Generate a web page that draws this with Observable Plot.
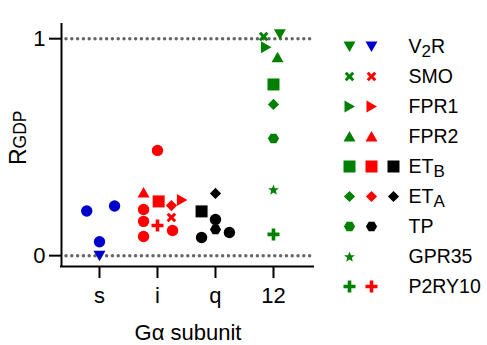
<!DOCTYPE html>
<html><head><meta charset="utf-8">
<script src="https://cdn.jsdelivr.net/npm/d3@7"></script>
<script src="https://cdn.jsdelivr.net/npm/@observablehq/plot@0.6"></script>
<style>
body{margin:0;background:#fff;}
#wrap{position:relative;width:487px;height:345px;font-family:Arial,"Liberation Sans",sans-serif;}
#wrap svg{position:absolute;top:0;overflow:visible;}
</style></head><body><div id="wrap"></div>
<script>
// ---- data ----
const subunits = ["s", "i", "q", "12"];
const yTicks = [0, 1];

const gsReceptor = ["other", "other", "other", "V2R"];
const gsDodge    = [-0.22, 0.26, 0, 0];
const gsValue    = [0.206, 0.229, 0.064, 0.0];

const giReceptor = ["other", "FPR2", "ETB", "ETA", "FPR1", "other", "other", "other", "P2RY10", "SMO", "other"];
const giDodge    = [0, -0.24, 0.02, 0.24, 0.42, -0.24, -0.24, -0.24, 0, 0.24, 0.26];
const giValue    = [0.485, 0.291, 0.250, 0.231, 0.256, 0.213, 0.158, 0.088, 0.139, 0.176, 0.116];

const gqReceptor = ["ETA", "ETB", "other", "TP", "other", "other"];
const gqDodge    = [0, -0.24, 0, 0, 0.24, -0.24];
const gqValue    = [0.287, 0.204, 0.167, 0.121, 0.107, 0.084];

const g12Receptor = ["SMO", "V2R", "FPR1", "FPR2", "ETB", "ETA", "TP", "GPR35", "P2RY10"];
const g12Dodge    = [-0.17, 0.11, -0.13, 0.07, 0, 0, 0, 0, 0];
const g12Value    = [1.010, 1.020, 0.961, 0.915, 0.789, 0.697, 0.540, 0.305, 0.098];

const legendReceptors = ["V2R", "SMO", "FPR1", "FPR2", "ETB", "ETA", "TP", "GPR35", "P2RY10"];
const legendSubunits = [["12","s"], ["12","i"], ["12","i"], ["12","i"], ["12","i","q"], ["12","i","q"], ["12","q"], ["12"], ["12","i"]];

// ---- styles ----
const subunitColor = {"s": "#0000cc", "i": "#ff0000", "q": "#000000", "12": "#008000"};
const FONT = 'Arial, "Liberation Sans", sans-serif';

function poly(ctx, pts) {
  ctx.moveTo(pts[0][0], pts[0][1]);
  for (let i = 1; i < pts.length; i++) ctx.lineTo(pts[i][0], pts[i][1]);
  ctx.closePath();
}
function rot(pts, a) {
  const c = Math.cos(a), s = Math.sin(a);
  return pts.map(([x, y]) => [x * c - y * s, x * s + y * c]);
}
const plusPts = (L, t) => [[-t,-L],[t,-L],[t,-t],[L,-t],[L,t],[t,t],[t,L],[-t,L],[-t,t],[-L,t],[-L,-t],[-t,-t]];
const sym = f => ({draw(ctx) { f(ctx); }});
const shapes = {
  other: sym(ctx => { ctx.moveTo(5.7, 0); ctx.arc(0, 0, 5.7, 0, 2 * Math.PI); }),
  V2R: sym(ctx => poly(ctx, [[-6, -5], [6, -5], [0, 5.5]])),
  SMO: sym(ctx => poly(ctx, rot(plusPts(5.3, 1.5), Math.PI / 4))),
  FPR1: sym(ctx => poly(ctx, [[-5, -6], [5.5, 0], [-5, 6]])),
  FPR2: sym(ctx => poly(ctx, [[0, -5.5], [6, 5], [-6, 5]])),
  ETB: sym(ctx => poly(ctx, [[-6, -6], [6, -6], [6, 6], [-6, 6]])),
  ETA: sym(ctx => poly(ctx, [[0, -5.6], [5.6, 0], [0, 5.6], [-5.6, 0]])),
  TP: sym(ctx => poly(ctx, d3.range(6).map(k => [5.6 * Math.cos(k * Math.PI / 3), 5.6 * Math.sin(k * Math.PI / 3)]))),
  GPR35: sym(ctx => poly(ctx, d3.range(10).map(k => {
    const R = k % 2 ? 2.4 : 5.7, a = -Math.PI / 2 + k * Math.PI / 5;
    return [R * Math.cos(a), R * Math.sin(a) + 0.6];
  }))),
  P2RY10: sym(ctx => poly(ctx, plusPts(6, 1.8)))
};

// ---- build tables ----
const groups = [
  {sub: 0, receptor: gsReceptor, dodge: gsDodge, value: gsValue},
  {sub: 1, receptor: giReceptor, dodge: giDodge, value: giValue},
  {sub: 2, receptor: gqReceptor, dodge: gqDodge, value: gqValue},
  {sub: 3, receptor: g12Receptor, dodge: g12Dodge, value: g12Value}
];
const points = groups.flatMap(g => g.receptor.map((r, i) => ({
  sub: subunits[g.sub], receptor: r, x: g.sub + g.dodge[i], y: g.value[i]
})));
const legendItems = legendReceptors.flatMap((r, i) => legendSubunits[i].map((s, col) => ({receptor: r, sub: s, col})));

const shapeMarks = (data, opts) => Object.keys(shapes).map(r =>
  Plot.dot(data.filter(d => d.receptor === r), {...opts, symbol: shapes[r], r: 6, fill: d => subunitColor[d.sub], stroke: "none"}));

const chart = Plot.plot({
  width: 487, height: 345,
  marginLeft: 61, marginRight: 173, marginTop: 23, marginBottom: 79,
  style: {fontFamily: FONT, fontSize: "21px", color: "#000", background: "transparent", overflow: "visible"},
  x: {domain: [-0.655, 3.707]},
  y: {domain: [-0.05, 1.07]},
  color: {type: "identity"},
  marks: [
    Plot.ruleY(yTicks, {stroke: "#666", strokeWidth: 3.5, strokeDasharray: "0,5.8", strokeLinecap: "round", insetLeft: 5, insetRight: 2}),
    Plot.ruleX([-0.655], {stroke: "#000", strokeWidth: 2}),
    Plot.ruleY([-0.05], {stroke: "#000", strokeWidth: 2, insetLeft: -1}),
    Plot.axisY({ticks: yTicks, tickFormat: d => String(d), tickSize: 12, tickPadding: 4, strokeWidth: 2, label: null, fontSize: 22}),
    Plot.axisX({ticks: [0, 1, 2, 3], tickFormat: i => subunits[i], tickSize: 12, tickPadding: 9, strokeWidth: 2, label: null, fontSize: 22}),
    Plot.text(["Gα subunit"], {frameAnchor: "bottom", dy: 66.5, lineAnchor: "middle", fontSize: 22}),
    Plot.text(["RGDP"], {frameAnchor: "left", dx: -43, dy: 20, rotate: -90, lineAnchor: "middle", fontSize: 23}),
    ...shapeMarks(points, {x: "x", y: "y"})
  ]
});

const legend = Plot.plot({
  width: 157, height: 345, margin: 0,
  style: {fontFamily: FONT, fontSize: "19.5px", color: "#000", background: "transparent", overflow: "visible"},
  x: {type: "point", domain: [0, 1, 2], range: [19, 63], padding: 0, axis: null},
  y: {type: "point", domain: legendReceptors, range: [43, 289], padding: 0, axis: null},
  color: {type: "identity"},
  marks: [
    ...shapeMarks(legendItems, {x: "col", y: "receptor"}),
    Plot.text(legendReceptors, {y: d => d, frameAnchor: "left", dx: 78, textAnchor: "start", lineAnchor: "middle", fontSize: 19.5})
  ]
});
legend.style.left = "330px";

// subscripts
const subParts = {"V2R": ["V", "2", "R"], "ETB": ["ET", "B", ""], "ETA": ["ET", "A", ""]};
d3.select(legend).selectAll("text").each(function() {
  const p = subParts[this.textContent];
  if (!p) return;
  const t = d3.select(this).text("");
  t.append("tspan").text(p[0]);
  t.append("tspan").attr("dy", 4.5).attr("font-size", 17).text(p[1]);
  if (p[2]) t.append("tspan").attr("dy", -4.5).text(p[2]);
});
d3.select(chart).selectAll("text").each(function() {
  if (this.textContent !== "RGDP") return;
  const t = d3.select(this).text("");
  t.append("tspan").text("R");
  t.append("tspan").attr("font-size", 17.5).text("GDP");
});

document.getElementById("wrap").append(chart, legend);
</script></body></html>
